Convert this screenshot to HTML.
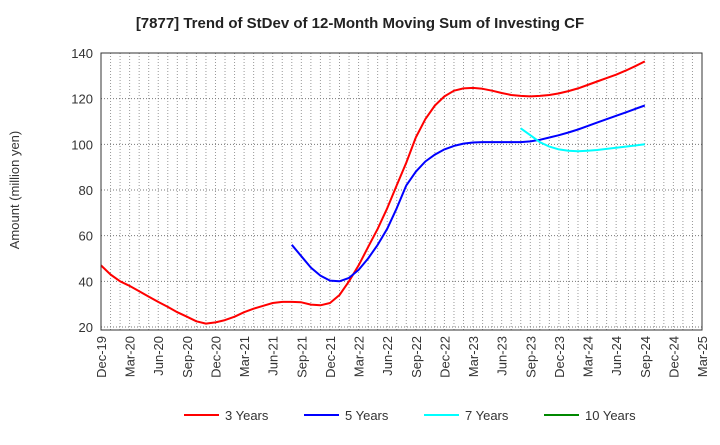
<!DOCTYPE html>
<html><head><meta charset="utf-8"><style>
body{margin:0;background:#fff;font-family:"Liberation Sans",Arial,sans-serif}
svg text{font-family:"Liberation Sans",Arial,sans-serif}
</style></head><body>
<svg id="c" width="720" height="440">
<text x="360" y="28" text-anchor="middle" font-size="15" font-weight="bold" fill="#222">[7877]  Trend of StDev of 12-Month Moving Sum of Investing CF</text>
<text transform="translate(19,190) rotate(-90)" text-anchor="middle" font-size="13" fill="#333">Amount (million yen)</text>
<g id="grid"></g><g id="series"></g><g id="axes"></g>
<g>
<line x1="184" y1="415" x2="219" y2="415" stroke="#f00" stroke-width="2"/><text x="225" y="420" font-size="13" fill="#333">3 Years</text>
<line x1="304" y1="415" x2="339" y2="415" stroke="#00f" stroke-width="2"/><text x="345" y="420" font-size="13" fill="#333">5 Years</text>
<line x1="424" y1="415" x2="459" y2="415" stroke="#0ff" stroke-width="2"/><text x="465" y="420" font-size="13" fill="#333">7 Years</text>
<line x1="544" y1="415" x2="579" y2="415" stroke="#080" stroke-width="2"/><text x="585" y="420" font-size="13" fill="#333">10 Years</text>
</g>
</svg>
<script>
const xLabels=["Dec-19","Mar-20","Jun-20","Sep-20","Dec-20","Mar-21","Jun-21","Sep-21","Dec-21","Mar-22","Jun-22","Sep-22","Dec-22","Mar-23","Jun-23","Sep-23","Dec-23","Mar-24","Jun-24","Sep-24","Dec-24","Mar-25"];
const yTicks=[20,40,60,80,100,120,140];
const s3Start=0;
const s3=[47,43,40,38,35.7,33.3,31,28.8,26.5,24.5,22.5,21.5,22,23,24.5,26.5,28,29.3,30.5,31,31,30.8,29.8,29.5,30.5,34,40,47,55,63,72,82,92,103,111,117,121,123.5,124.5,124.7,124.3,123.5,122.5,121.6,121.2,121,121.2,121.6,122.3,123.3,124.5,126,127.5,129,130.5,132.3,134.2,136.3];
const s5Start=20;
const s5=[56,51,46,42.5,40.3,40,41.5,45,50,56,63,72,82,88,92.5,95.5,97.8,99.3,100.3,100.8,101,101,101,101,101,101.3,102,103,104,105.2,106.5,108,109.5,111,112.5,114,115.5,117];
const s7Start=44;
const s7=[107,104,101,99,97.8,97.2,97,97.2,97.5,98,98.5,99,99.5,100];
const L=101,R=702,T=53,B=327,months=63;
const X=m=>L+m*(R-L)/months;
const Y=v=>B-(v-20)*(B-T)/120;
const NS="http://www.w3.org/2000/svg";
function mk(tag,attrs,parent){const e=document.createElementNS(NS,tag);for(const k in attrs)e.setAttribute(k,attrs[k]);document.getElementById(parent).appendChild(e);return e;}
for(let m=1;m<months;m++){const l=mk("line",{x1:X(m),x2:X(m),y1:T,y2:330,stroke:"#999","stroke-dasharray":"1,2","stroke-width":1},"grid");

}
yTicks.forEach(v=>{const l=mk("line",{x1:L,x2:R,y1:Y(v),y2:Y(v),stroke:"#777","stroke-dasharray":"1,2","stroke-width":1},"grid");


const t=mk("text",{x:L-8,y:Y(v)+5,"text-anchor":"end","font-size":13,fill:"#333"},"axes");t.textContent=v;

});
const fr=mk("rect",{x:L,y:T,width:R-L,height:330-T,fill:"none",stroke:"#333","stroke-width":1},"axes");


xLabels.forEach((s,i)=>{const x=X(i*3);const t=mk("text",{transform:`translate(${x+5},336) rotate(-90)`,"text-anchor":"end","font-size":13,fill:"#333"},"axes");t.textContent=s;

});
function line(arr,start,color,name){const pts=arr.map((v,i)=>X(start+i).toFixed(1)+","+Y(v).toFixed(1)).join(" ");
const p=mk("polyline",{points:pts,fill:"none",stroke:color,"stroke-width":2,"stroke-linejoin":"round"},"series");

}
line(s3,s3Start,"#f00","series-3-years");
line(s5,s5Start,"#00f","series-5-years");
line(s7,s7Start,"#0ff","series-7-years");
</script>
</body></html>
